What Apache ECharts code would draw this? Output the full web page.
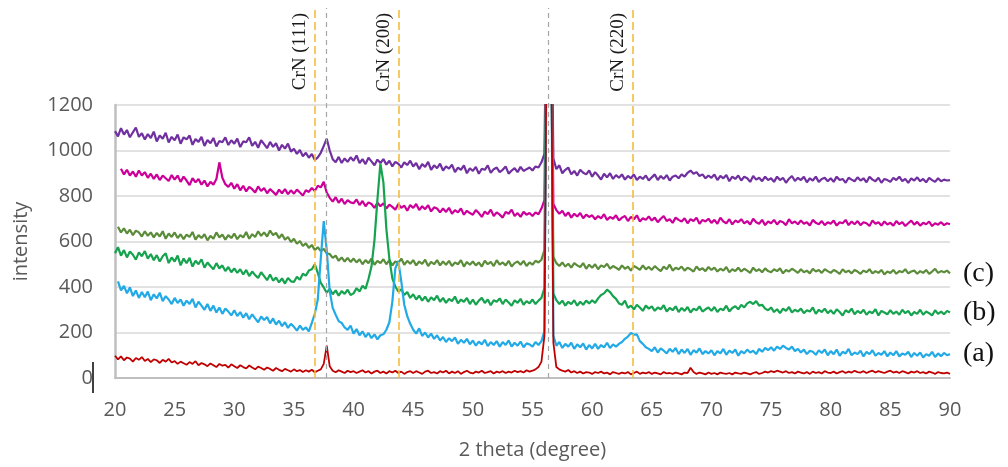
<!DOCTYPE html>
<html>
<head>
<meta charset="utf-8">
<script src="https://cdn.jsdelivr.net/npm/echarts@6.0.0/dist/echarts.min.js"></script>
<style>
  html, body { margin: 0; padding: 0; background: #fff; }
  #chart { width: 1008px; height: 467px; }
</style>
</head>
<body>
<div id="chart"></div>
<script>
// 2 theta scan: 20 -> 90 deg, step 0.25 deg
const thetaStart = 20;
const thetaStep = 0.25;
const xTicks = [20, 25, 30, 35, 40, 45, 50, 55, 60, 65, 70, 75, 80, 85, 90];
const yTicks = [0, 200, 400, 600, 800, 1000, 1200];

// reference lines (deg) and their labels
const refLines = [36.75, 37.7, 43.8, 56.35, 63.4];
const refLabels = ['CrN (111)', '', 'CrN (200)', '', 'CrN (220)'];

// each row = 10 points (2.5 deg)
const purple = [
  1085, 1062, 1098, 1070, 1090, 1058, 1080, 1101, 1060, 1076,
  1048, 1072, 1055, 1083, 1040, 1066, 1052, 1078, 1035, 1060,
  1045, 1070, 1030, 1058, 1049, 1066, 1025, 1050, 1038, 1060,
  1020, 1046, 1032, 1055, 1018, 1042, 1036, 1058, 1024, 1045,
  1030, 1052, 1015, 1040, 1036, 1058, 1020, 1038, 1012, 1045,
  1028, 1010, 1038, 1016, 1032, 1000, 1025, 1008, 1030, 995,
  1008, 985, 1002, 975, 990, 968, 985, 958, 970, 990,
  1020, 1052, 1000, 962, 948, 972, 945, 965, 950, 970,
  955, 978, 945, 962, 940, 968, 952, 935, 960, 945,
  962, 938, 955, 930, 950, 942, 925, 948, 936, 955,
  930, 945, 918, 940, 928, 950, 915, 935, 922, 942,
  912, 930, 920, 938, 905, 925, 915, 935, 900, 922,
  910, 928, 898, 920, 915, 935, 902, 918, 925, 905,
  915, 930, 898, 912, 922, 905, 928, 910, 918, 925,
  912, 930, 925, 948, 985, 2000, 2000, 965, 918, 935,
  900, 915, 925, 895, 910, 890, 915, 902, 895, 912,
  885, 905, 890, 872, 898, 882, 900, 875, 892, 880,
  895, 872, 888, 878, 895, 870, 885, 875, 890, 868,
  882, 895, 870, 888, 875, 892, 868, 885, 890, 878,
  895, 885, 902, 912, 898, 905, 888, 895, 878, 890,
  880, 895, 870, 888, 878, 892, 865, 885, 875, 890,
  868, 885, 878, 862, 888, 872, 880, 865, 885, 870,
  878, 862, 885, 870, 880, 858, 876, 888, 866, 880,
  870, 885, 860, 878, 868, 885, 862, 875, 880, 865,
  878, 862, 885, 870, 875, 858, 880, 872, 865, 882,
  868, 878, 860, 885, 872, 865, 880, 858, 875, 870,
  862, 880, 870, 885, 865, 875, 858, 878, 868, 882,
  865, 875, 860, 880, 870, 862, 878, 865, 872, 868,
  870
];

const magenta = [
  null, null, 920, 895, 915, 890, 908, 885, 912, 890,
  905, 880, 898, 875, 895, 870, 890, 878, 866, 892,
  872, 890, 862, 885, 868, 848, 878, 860, 875, 850,
  868, 842, 862, 850, 875, 948, 880, 852, 840, 858,
  832, 852, 825, 845, 820, 840, 830, 815, 842, 822,
  835, 812, 830, 818, 805, 828, 812, 830, 808, 825,
  810, 828, 815, 802, 825, 818, 835, 822, 845, 838,
  862, 815, 792, 775, 795, 770, 788, 765, 782, 772,
  768, 785, 760, 778, 755, 772, 765, 748, 770, 755,
  768, 745, 762, 752, 740, 765, 748, 758, 735, 760,
  748, 765, 738, 755, 742, 760, 732, 750, 745, 728,
  745, 730, 748, 722, 738, 728, 745, 718, 735, 725,
  718, 738, 725, 708, 732, 720, 740, 712, 728, 718,
  705, 730, 722, 740, 712, 725, 708, 730, 718, 725,
  712, 728, 720, 745, 782, 2000, 2000, 765, 738, 722,
  735, 712, 728, 705, 722, 710, 725, 702, 718, 708,
  715, 698, 712, 702, 720, 695, 708, 700, 715, 692,
  705, 712, 690, 708, 698, 715, 688, 702, 695, 710,
  692, 705, 685, 700, 712, 690, 698, 682, 705, 695,
  688, 702, 680, 698, 690, 705, 678, 695, 688, 700,
  682, 695, 678, 705, 688, 680, 698, 675, 692, 685,
  698, 680, 690, 675, 700, 685, 678, 695, 672, 688,
  680, 695, 675, 690, 685, 672, 698, 680, 688, 676,
  692, 678, 685, 670, 695, 682, 676, 690, 672, 685,
  678, 692, 670, 685, 680, 695, 672, 688, 676, 690,
  672, 685, 680, 668, 692, 678, 685, 670, 688, 675,
  682, 670, 690, 676, 685, 668, 680, 692, 674, 686,
  670, 682, 676, 688, 668, 680, 674, 685, 672, 680,
  676
];

const olive = [
  null, 665, 640, 658, 635, 652, 628, 648, 640, 622,
  645, 625, 640, 618, 638, 622, 645, 612, 635, 620,
  640, 615, 632, 610, 630, 620, 642, 608, 628, 615,
  632, 605, 625, 612, 640, 618, 630, 608, 628, 615,
  635, 610, 628, 618, 642, 612, 632, 620, 645, 625,
  640, 622, 648, 628, 638, 615, 632, 608, 620, 598,
  612, 590, 602, 580, 592, 572, 585, 562, 575, 558,
  568, 548, 545, 528, 538, 515, 530, 512, 528, 510,
  525, 508, 522, 500, 518, 505, 525, 498, 515, 505,
  522, 500, 518, 495, 512, 505, 525, 498, 515, 502,
  518, 495, 512, 502, 520, 492, 510, 500, 518, 495,
  512, 498, 515, 492, 508, 500, 518, 490, 510, 498,
  512, 495, 508, 490, 515, 500, 510, 492, 518, 498,
  508, 495, 515, 490, 505, 512, 498, 515, 492, 508,
  498, 515, 508, 520, 562, 2000, 2000, 532, 505, 492,
  508, 490, 502, 485, 505, 495, 488, 505, 480, 498,
  485, 500, 478, 495, 488, 502, 480, 492, 485, 475,
  495, 480, 490, 472, 492, 485, 475, 495, 478, 488,
  475, 492, 480, 470, 490, 478, 498, 472, 485, 478,
  490, 472, 485, 478, 468, 490, 475, 482, 470, 488,
  475, 485, 468, 480, 472, 488, 465, 478, 470, 485,
  468, 480, 472, 462, 485, 470, 478, 465, 482, 470,
  465, 478, 470, 482, 460, 475, 468, 480, 472, 462,
  478, 465, 472, 460, 480, 468, 475, 462, 478, 470,
  462, 475, 468, 458, 478, 465, 472, 460, 475, 468,
  458, 472, 465, 478, 460, 470, 462, 475, 455, 468,
  462, 475, 458, 470, 465, 478, 460, 468, 472, 458,
  470, 462, 475, 458, 468, 480, 462, 470, 465, 472,
  460
];

const green = [
  548, 575, 538, 562, 530, 556, 542, 520, 552, 535,
  558, 525, 545, 518, 540, 512, 535, 548, 505, 530,
  512, 538, 495, 525, 505, 528, 490, 515, 500, 522,
  485, 508, 492, 478, 505, 482, 495, 470, 488, 465,
  482, 462, 478, 455, 475, 448, 468, 452, 440, 465,
  448, 430, 455, 428, 442, 420, 438, 415, 440, 425,
  422, 445, 432, 458, 450, 472, 478, 500, 462, 418,
  398, 375, 392, 368, 385, 362, 382, 370, 388, 365,
  372, 395, 380, 405, 392, 435, 490, 605, 785, 942,
  860, 655, 525, 438, 402, 380, 390, 365, 378, 352,
  368, 345, 362, 340, 358, 335, 355, 342, 362, 335,
  352, 330, 348, 338, 358, 328, 345, 335, 352, 325,
  345, 322, 340, 352, 330, 345, 320, 342, 335, 350,
  325, 345, 332, 318, 342, 330, 348, 322, 338, 328,
  345, 325, 340, 352, 395, 2000, 2000, 372, 342, 325,
  340, 318, 335, 325, 342, 318, 335, 322, 340, 328,
  342, 330, 350, 365, 372, 388, 378, 360, 348, 328,
  322, 340, 308, 318, 302, 322, 310, 295, 318, 305,
  315, 295, 310, 302, 320, 292, 308, 298, 315, 290,
  308, 295, 312, 288, 305, 298, 315, 292, 302, 310,
  295, 312, 290, 305, 298, 318, 292, 308, 315, 302,
  322, 310, 328, 335, 325, 338, 318, 322, 305, 298,
  310, 290, 302, 285, 305, 295, 312, 288, 300, 292,
  305, 285, 298, 292, 310, 282, 300, 290, 305, 285,
  298, 282, 302, 290, 275, 298, 288, 305, 280, 295,
  285, 300, 278, 292, 285, 302, 275, 295, 288, 280,
  298, 282, 292, 278, 300, 285, 295, 275, 290, 282,
  300, 278, 292, 285, 275, 298, 282, 292, 280, 295,
  288
];

const cyan = [
  null, 425, 385, 405, 372, 398, 360, 385, 352, 378,
  355, 380, 342, 368, 350, 375, 338, 360, 345, 325,
  352, 330, 345, 318, 340, 325, 348, 310, 335, 318,
  300, 325, 295, 318, 288, 310, 282, 305, 292, 275,
  298, 272, 290, 265, 285, 258, 280, 262, 245, 270,
  255, 268, 240, 262, 235, 252, 228, 245, 220, 238,
  225, 208, 230, 212, 222, 205, 242, 282, 345, 525,
  690, 562, 382, 308, 278, 250, 242, 222, 212, 230,
  195, 215, 188, 205, 180, 198, 175, 192, 170, 188,
  192, 212, 245, 335, 482, 515, 425, 322, 272, 238,
  212, 195, 218, 185, 200, 178, 195, 172, 188, 165,
  180, 158, 175, 162, 178, 150, 168, 155, 172, 148,
  165, 142, 160, 148, 168, 140, 158, 145, 162, 138,
  158, 145, 165, 138, 155, 142, 160, 135, 152, 148,
  138, 158, 145, 162, 205, 2000, 2000, 185, 142, 158,
  132, 150, 138, 155, 128, 148, 135, 152, 125, 145,
  130, 150, 128, 145, 135, 155, 132, 148, 138, 150,
  158, 172, 182, 198, 190, 192, 162, 150, 135, 128,
  118, 135, 112, 130, 120, 108, 128, 115, 132, 105,
  125, 110, 128, 102, 122, 112, 130, 105, 118, 108,
  122, 100, 118, 108, 128, 102, 120, 110, 125, 98,
  118, 108, 125, 112, 120, 105, 128, 115, 132, 122,
  135, 120, 138, 128, 142, 132, 125, 138, 118, 128,
  112, 125, 105, 120, 115, 102, 122, 110, 125, 100,
  118, 105, 125, 98, 115, 108, 128, 100, 112, 105,
  120, 95, 115, 105, 122, 98, 110, 102, 118, 95,
  112, 100, 118, 95, 108, 102, 115, 92, 110, 98,
  112, 90, 105, 98, 115, 92, 108, 96, 110, 100,
  105
];

const red = [
  98, 82, 95, 78, 90, 85, 72, 88, 80, 92,
  75, 84, 70, 82, 78, 66, 80, 72, 84, 68,
  74, 62, 72, 65, 58, 70, 62, 74, 56, 66,
  60, 52, 64, 56, 48, 62, 54, 58, 46, 60,
  52, 44, 56, 48, 42, 55, 46, 38, 50, 44,
  36, 46, 40, 32, 44, 36, 30, 40, 34, 28,
  38, 30, 35, 26, 34, 28, 36, 25, 32, 38,
  62, 142, 52, 32, 25, 34, 28, 22, 32, 26,
  30, 22, 28, 34, 24, 30, 20, 28, 32, 22,
  28, 20, 30, 24, 32, 22, 28, 18, 26, 30,
  22, 30, 24, 18, 28, 32, 22, 26, 20, 30,
  24, 32, 20, 28, 22, 30, 18, 26, 32, 24,
  20, 28, 24, 32, 22, 26, 30, 20, 28, 24,
  30, 22, 28, 24, 32, 26, 30, 24, 34, 28,
  32, 38, 48, 72, 185, 2000, 2000, 155, 48, 38,
  32, 28, 35, 24, 30, 22, 28, 20, 26, 24,
  18, 26, 22, 28, 20, 24, 16, 26, 22, 18,
  24, 20, 26, 16, 22, 28, 18, 24, 20, 26,
  18, 24, 20, 16, 26, 20, 22, 18, 24, 20,
  16, 24, 22, 45, 26, 18, 24, 20, 16, 24,
  18, 22, 16, 24, 20, 18, 22, 16, 24, 20,
  18, 24, 20, 16, 22, 26, 18, 22, 28, 24,
  30, 26, 32, 28, 24, 30, 22, 26, 20, 28,
  24, 20, 26, 18, 28, 22, 26, 20, 30, 24,
  22, 28, 20, 26, 30, 22, 28, 24, 32, 26,
  24, 30, 22, 28, 32, 24, 30, 26, 22, 28,
  32, 24, 28, 22, 30, 26, 20, 28, 24, 30,
  22, 26, 20, 28, 24, 18, 26, 22, 20, 24,
  18
];

function toPairs(values) {
  return values.map((v, i) => [thetaStart + i * thetaStep, v]);
}

const myChart = echarts.init(document.getElementById('chart'));

const axisFont = 'Open Sans';
const serifFont = 'Liberation Serif';

function traceSeries(name, values, color, width, endText) {
  const s = {
    name: name,
    type: 'line',
    xAxisIndex: 0,
    yAxisIndex: 0,
    data: toPairs(values),
    showSymbol: false,
    symbol: 'none',
    connectNulls: false,
    lineStyle: { color: color, width: width },
    itemStyle: { color: color },
    z: 3,
  };
  if (endText) {
    s.endLabel = {
      show: true,
      formatter: endText,
      distance: 13,
      color: '#111',
      fontFamily: serifFont,
      fontSize: 28,
    };
  }
  return s;
}

const orange = '#F5BC3C';
const grayDash = '#A6A6A6';

myChart.setOption({
  animation: false,
  backgroundColor: '#fff',
  grid: [
    { left: 115, right: 58, top: 105, bottom: 89 },
    { left: 115, right: 58, top: 8, bottom: 89 },
  ],
  xAxis: [
    {
      type: 'value',
      gridIndex: 0,
      min: xTicks[0],
      max: xTicks[xTicks.length - 1],
      interval: 5,
      name: '2 theta (degree)',
      nameLocation: 'middle',
      nameGap: 62,
      nameTextStyle: { fontFamily: axisFont, fontSize: 20, color: '#595959' },
      axisLine: { show: true, lineStyle: { color: '#BFBFBF', width: 2 } },
      axisTick: { show: false },
      splitLine: { show: false },
      axisLabel: {
        fontFamily: axisFont,
        fontSize: 20,
        color: '#595959',
        margin: 22,
      },
    },
    {
      type: 'value',
      gridIndex: 1,
      min: xTicks[0],
      max: xTicks[xTicks.length - 1],
      show: false,
    },
  ],
  yAxis: [
    {
      type: 'value',
      gridIndex: 0,
      min: yTicks[0],
      max: yTicks[yTicks.length - 1],
      interval: 200,
      name: 'intensity',
      nameLocation: 'middle',
      nameGap: 84,
      nameTextStyle: { fontFamily: axisFont, fontSize: 20, color: '#595959' },
      axisLine: { show: true, lineStyle: { color: '#BFBFBF', width: 2.5 } },
      axisTick: { show: false },
      splitLine: { show: true, lineStyle: { color: '#D9D9D9', width: 1.5 } },
      axisLabel: {
        fontFamily: axisFont,
        fontSize: 20,
        color: '#595959',
        margin: 22,
        formatter: (v) => String(v),
      },
    },
    {
      type: 'value',
      gridIndex: 1,
      min: 0,
      max: 1,
      show: false,
    },
  ],
  series: [
    traceSeries('purple', purple, '#7030A0', 2.2),
    traceSeries('magenta', magenta, '#CC0099', 2.2),
    traceSeries('c', olive, '#5B8C3A', 2.2, '(c)'),
    traceSeries('b', green, '#16A34F', 2.2, '(b)'),
    traceSeries('a', cyan, '#22AAE6', 2.2, '(a)'),
    traceSeries('red', red, '#C00000', 1.8),
    {
      name: 'ref',
      type: 'line',
      xAxisIndex: 1,
      yAxisIndex: 1,
      data: [],
      z: 6,
      markLine: {
        silent: true,
        symbol: 'none',
        animation: false,
        data: refLines.map((x, i) => ({
          xAxis: x,
          lineStyle: refLabels[i]
            ? { color: orange, width: 1.6, type: [8, 4] }
            : { color: grayDash, width: 1.2, type: [5, 4] },
          label: {
            show: !!refLabels[i],
            formatter: refLabels[i],
            position: 'insideEndTop',
            distance: 5,
            fontFamily: serifFont,
            fontSize: 19,
            color: '#1a1a1a',
          },
        })),
      },
    },
  ],
  graphic: [
    {
      type: 'line',
      shape: { x1: 93, y1: 362, x2: 93, y2: 393 },
      style: { stroke: '#000', lineWidth: 1.5 },
    },
  ],
});
</script>
</body>
</html>
